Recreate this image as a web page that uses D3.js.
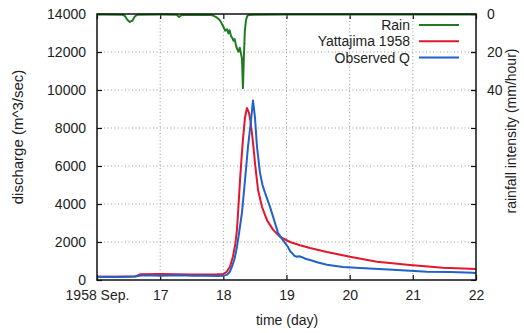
<!DOCTYPE html>
<html>
<head>
<meta charset="utf-8">
<script src="https://cdn.jsdelivr.net/npm/d3@7"></script>
<style>
  html, body { margin: 0; padding: 0; background: #fff; }
  svg { display: block; font-family: "Liberation Sans", Arial, sans-serif; }
</style>
</head>
<body>
<svg id="chart" width="524" height="333"></svg>
<script>
// Time axis (days of September 1958)
const xTickValues = [16, 17, 18, 19, 20, 21, 22];
const xTickLabels = ["1958 Sep.", "17", "18", "19", "20", "21", "22"];
const qTickValues = [0, 2000, 4000, 6000, 8000, 10000, 12000, 14000];
const rainTickValues = [0, 20, 40];

// Rainfall intensity (mm/hour)
const rainDay = [16.0, 16.40, 16.44, 16.48, 16.52, 16.56, 16.60, 16.64, 17.0, 17.26, 17.30, 17.34,
  17.80, 17.84, 17.88, 17.92, 17.95, 17.99, 18.03, 18.06, 18.08, 18.10, 18.12, 18.14, 18.16,
  18.18, 18.20, 18.22, 18.24, 18.26, 18.28, 18.295, 18.31, 18.325, 18.34, 18.36, 18.38, 18.40,
  18.5, 19.0, 22.0];
const rainRate = [0.3, 0.4, 1.0, 3.0, 4.2, 3.5, 1.2, 0.4, 0.3, 0.4, 1.6, 0.4,
  0.5, 0.8, 1.5, 2.5, 3.5, 6.0, 8.8, 8.0, 10.2, 8.6, 11.5, 12.5, 14.0,
  13.2, 16.5, 18.5, 19.8, 17.8, 21.0, 23.5, 39.0, 23.0, 9.0, 3.0, 1.0, 0.5,
  0.4, 0.3, 0.3];

// Simulated discharge, Yattajima 1958 (m^3/sec)
const modelDay = [16.0, 16.6, 16.68, 17.0, 17.5, 17.9, 18.0, 18.05, 18.105, 18.153, 18.19, 18.216,
  18.24, 18.264, 18.29, 18.311, 18.343, 18.374, 18.406, 18.43, 18.454, 18.48, 18.501, 18.549,
  18.612, 18.691, 18.786, 18.897, 19.055, 19.214, 19.372, 19.641, 20.005, 20.432, 20.955,
  21.477, 22.0];
const yattajimaQ = [170, 180, 300, 320, 290, 300, 320, 420, 700, 1250, 1900, 2650,
  3900, 5250, 6500, 7400, 8550, 9050, 8800, 8350, 7700, 6900, 6150, 4750,
  3850, 3150, 2650, 2270, 2000, 1830, 1680, 1470, 1220, 960, 790,
  650, 580];

// Observed discharge (m^3/sec)
const obsDay = [16.0, 16.3, 16.6, 16.7, 16.9, 17.0, 17.3, 17.5, 17.7, 17.9, 18.0, 18.058, 18.1,
  18.137, 18.18, 18.216, 18.25, 18.295, 18.343, 18.39, 18.438, 18.47, 18.501, 18.533, 18.58,
  18.62, 18.659, 18.739, 18.818, 18.865, 18.944, 19.023, 19.06, 19.087, 19.13, 19.166, 19.2,
  19.245, 19.3, 19.372, 19.5, 19.641, 19.894, 20.163, 20.686, 21.224, 21.6, 21.95, 22.0];
const observedQ = [170, 160, 190, 240, 240, 230, 250, 220, 230, 210, 230, 270, 420,
  700, 1150, 1750, 2500, 3550, 5250, 7000, 8400, 9450, 8550, 7000, 5650,
  5000, 4600, 3850, 3000, 2480, 2100, 1740, 1500, 1420, 1260, 1220, 1250,
  1200, 1120, 1050, 920, 800, 690, 630, 540, 440, 420, 380, 360];

const seriesNames = ["Rain", "Yattajima 1958", "Observed Q"];
const seriesColors = ["#217a21", "#e3172b", "#1f62cc"];

const svg = d3.select("#chart");
const L = 97, R = 476, T = 14, B = 280;

const x = d3.scaleLinear().domain([16, 22]).range([L, R]);
const y = d3.scaleLinear().domain([0, 14000]).range([B, T]);
const y2 = d3.scaleLinear().domain([0, 140]).range([T, B]);

// dotted grid
const grid = svg.append("g").attr("stroke", "#9a9a9a").attr("stroke-width", 1)
  .attr("stroke-dasharray", "1,2.5");
grid.selectAll("line.vx").data(xTickValues.slice(1, -1)).join("line")
  .attr("x1", d => x(d)).attr("x2", d => x(d)).attr("y1", T).attr("y2", B);
grid.selectAll("line.hy").data(qTickValues.slice(1, -1)).join("line")
  .attr("x1", L).attr("x2", R).attr("y1", d => y(d)).attr("y2", d => y(d));

const tickFont = g => g.attr("font-size", 14).attr("font-family", "'Liberation Sans', Arial, sans-serif")
  .call(s => s.select(".domain").remove())
  .call(s => s.selectAll("text").attr("fill", "#222"))
  .call(s => s.selectAll(".tick line").attr("stroke", "#111").attr("stroke-width", 1.2));

svg.append("g").attr("transform", `translate(0,${B})`)
  .call(d3.axisBottom(x).tickValues(xTickValues).tickSize(-5).tickPadding(10)
    .tickFormat((d, i) => xTickLabels[i]))
  .call(tickFont);
svg.append("g").attr("transform", `translate(0,${T})`)
  .call(d3.axisTop(x).tickValues(xTickValues).tickSize(-5).tickFormat(""))
  .call(tickFont);
svg.append("g").attr("transform", `translate(${L},0)`)
  .call(d3.axisLeft(y).tickValues(qTickValues).tickSize(-5).tickPadding(11).tickFormat(d3.format("d")))
  .call(tickFont);
svg.append("g").attr("transform", `translate(${R},0)`)
  .call(d3.axisRight(y).tickValues(qTickValues).tickSize(-5).tickFormat(""))
  .call(tickFont);
svg.append("g").attr("transform", `translate(${R},0)`)
  .call(d3.axisRight(y2).tickValues(rainTickValues).tickSize(-5).tickPadding(11))
  .call(tickFont);

// series
const series = [
  { d: rainDay, v: rainRate, ys: y2 },
  { d: modelDay, v: yattajimaQ, ys: y },
  { d: obsDay, v: observedQ, ys: y }
];
series.forEach((s, k) => {
  const line = d3.line().x((_, i) => x(s.d[i])).y((_, i) => s.ys(s.v[i])).curve(d3.curveLinear);
  svg.append("path").datum(s.v).attr("d", line)
    .attr("fill", "none").attr("stroke", seriesColors[k]).attr("stroke-width", 2)
    .attr("stroke-linejoin", "round");
});

// frame
svg.append("rect").attr("x", L).attr("y", T).attr("width", R - L).attr("height", B - T)
  .attr("fill", "none").attr("stroke", "#111").attr("stroke-width", 1.5);

// legend
const leg = svg.append("g").attr("font-size", 14);
seriesNames.forEach((n, k) => {
  const ly = 25 + k * 16.3;
  leg.append("text").attr("x", 410).attr("y", ly).attr("dy", "0.35em")
    .attr("text-anchor", "end").attr("fill", "#222").text(n);
  leg.append("line").attr("x1", 419).attr("x2", 459).attr("y1", ly).attr("y2", ly)
    .attr("stroke", seriesColors[k]).attr("stroke-width", 2);
});

// axis titles
svg.append("text").attr("transform", "translate(23,137) rotate(-90)")
  .attr("text-anchor", "middle").attr("font-size", 15).attr("fill", "#222")
  .text("discharge (m^3/sec)");
svg.append("text").attr("transform", "translate(516,131) rotate(-90)")
  .attr("text-anchor", "middle").attr("font-size", 14).attr("fill", "#222")
  .text("rainfall intensity (mm/hour)");
svg.append("text").attr("x", 287).attr("y", 325)
  .attr("text-anchor", "middle").attr("font-size", 14).attr("fill", "#222")
  .text("time (day)");
</script>
</body>
</html>
